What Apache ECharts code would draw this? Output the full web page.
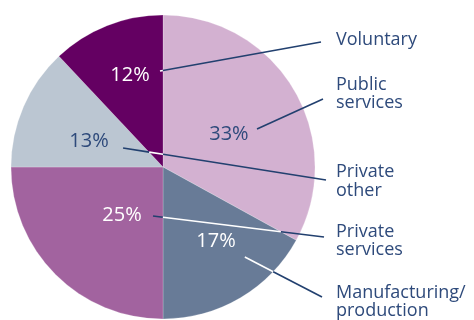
<!DOCTYPE html>
<html>
<head>
<meta charset="utf-8">
<script src="https://cdn.jsdelivr.net/npm/echarts@6/dist/echarts.min.js"></script>
<style>
  html, body { margin: 0; padding: 0; background: #ffffff; }
  #chart { width: 474px; height: 320px; }
</style>
</head>
<body>
<div id="chart"></div>
<script>
// Employment share by sector (per cent), clockwise from 12 o'clock
const categories = ['Public\nservices', 'Manufacturing/\nproduction', 'Private\nservices', 'Private\nother', 'Voluntary'];
const shares = [33, 17, 25, 13, 12];

// Styling per sector
const sliceColors = ['#D3B1D1', '#687B97', '#A2639F', '#BBC6D2', '#640062'];
const percentColors = ['#2E4A7B', '#FFFFFF', '#FFFFFF', '#2E4A7B', '#FFFFFF'];
const darkSlices = [false, true, false, false, true];

// Layout: pie geometry, label anchors (degrees clockwise from top, fraction of radius)
const CX = 163, CY = 167, R = 152;
const percentPos = [[63.4, 0.485], [144.4, 0.599], [220.5, 0.415], [289.4, 0.516], [340.3, 0.643]];
const leaderStart = [[68, 0.667], [137.7, 0.80], [191.5, 0.329], [295.4, 0.291], [358.2, 0.632]];
const leaderEnd = [[323, 99], [322, 297], [324, 237], [326, 180], [321, 42]];
const nameY = [94, 302, 241, 181.5, 40];
const NAME_X = 336;

const TEXT_NAVY = '#2E4A7B';
const LINE_NAVY = '#22406F';
const FONT = '"Open Sans", "Noto Sans", sans-serif';

function polar(deg, frac) {
  const a = deg * Math.PI / 180;
  return [CX + frac * R * Math.sin(a), CY - frac * R * Math.cos(a)];
}

const pieData = categories.map((name, i) => ({
  name: name,
  value: shares[i],
  itemStyle: { color: sliceColors[i] },
  label: { color: percentColors[i] }
}));

const chart = echarts.init(document.getElementById('chart'), null, { renderer: 'canvas' });

chart.setOption({
  animation: false,
  backgroundColor: '#ffffff',
  series: [
    {
      // slices with their percentage figures
      type: 'pie',
      center: [CX, CY],
      radius: R,
      startAngle: 90,
      clockwise: true,
      silent: true,
      avoidLabelOverlap: false,
      itemStyle: { borderColor: 'rgba(255,255,255,0.35)', borderWidth: 0.6 },
      label: {
        show: true,
        position: 'inside',
        formatter: '{c}%',
        fontFamily: FONT,
        fontSize: 20,
        overflow: 'none'
      },
      labelLine: { show: false },
      labelLayout: function (p) {
        const pt = polar(percentPos[p.dataIndex][0], percentPos[p.dataIndex][1]);
        return { x: pt[0], y: pt[1], align: 'center', verticalAlign: 'middle', hideOverlap: false };
      },
      data: pieData
    },
    {
      // sector names in a column on the right
      type: 'pie',
      center: [CX, CY],
      radius: R,
      startAngle: 90,
      clockwise: true,
      silent: true,
      avoidLabelOverlap: false,
      itemStyle: { color: 'rgba(0,0,0,0)' },
      label: {
        show: true,
        position: 'outside',
        formatter: '{b}',
        fontFamily: FONT,
        fontSize: 18,
        lineHeight: 18.5,
        color: TEXT_NAVY,
        overflow: 'none'
      },
      labelLine: { show: false },
      labelLayout: function (p) {
        return {
          x: NAME_X, y: nameY[p.dataIndex],
          align: 'left', verticalAlign: 'middle',
          width: 140, hideOverlap: false
        };
      },
      data: categories.map((name, i) => ({ name: name, value: shares[i] }))
    }
  ]
});

// Leader lines: white where they cross the dark sectors, navy elsewhere
const sliceData = chart.getModel().getSeriesByIndex(0).getData();
function sliceAt(x, y) {
  for (let i = 0; i < shares.length; i++) {
    const l = sliceData.getItemLayout(i);
    const dx = x - l.cx, dy = y - l.cy;
    if (Math.sqrt(dx * dx + dy * dy) > l.r) return -1;
    const lo = Math.min(l.startAngle, l.endAngle), hi = Math.max(l.startAngle, l.endAngle);
    let a = Math.atan2(dy, dx);
    while (a < lo) a += Math.PI * 2;
    while (a >= lo + Math.PI * 2) a -= Math.PI * 2;
    if (a < hi) return i;
  }
  return -1;
}

const leaderGraphics = [];
categories.forEach((_, i) => {
  const p0 = polar(leaderStart[i][0], leaderStart[i][1]);
  const p1 = leaderEnd[i];
  const len = Math.hypot(p1[0] - p0[0], p1[1] - p0[1]);
  const steps = Math.ceil(len / 0.5);
  let segStart = p0, segColor = null;
  for (let s = 0; s < steps; s++) {
    const t0 = s / steps, t1 = (s + 1) / steps, tm = (t0 + t1) / 2;
    const mx = p0[0] + (p1[0] - p0[0]) * tm, my = p0[1] + (p1[1] - p0[1]) * tm;
    const k = sliceAt(mx, my);
    const c = (k >= 0 && darkSlices[k]) ? '#FFFFFF' : LINE_NAVY;
    const pt = [p0[0] + (p1[0] - p0[0]) * t0, p0[1] + (p1[1] - p0[1]) * t0];
    if (segColor === null) { segColor = c; segStart = pt; }
    else if (c !== segColor) {
      leaderGraphics.push({ type: 'line', z: 100, silent: true,
        shape: { x1: segStart[0], y1: segStart[1], x2: pt[0], y2: pt[1] },
        style: { stroke: segColor, lineWidth: 1.6 } });
      segColor = c; segStart = pt;
    }
  }
  leaderGraphics.push({ type: 'line', z: 100, silent: true,
    shape: { x1: segStart[0], y1: segStart[1], x2: p1[0], y2: p1[1] },
    style: { stroke: segColor, lineWidth: 1.6 } });
});

chart.setOption({ graphic: leaderGraphics });
</script>
</body>
</html>
